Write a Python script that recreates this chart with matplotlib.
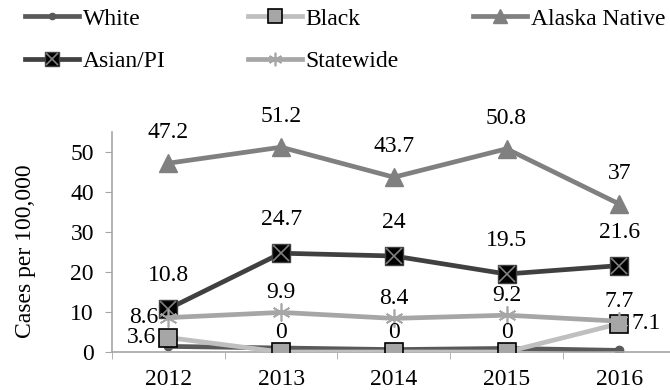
import matplotlib
matplotlib.use("Agg")
import matplotlib.pyplot as plt
from matplotlib.legend_handler import HandlerTuple
from matplotlib.ticker import FixedLocator

plt.rcParams['font.family'] = ['Liberation Serif', 'DejaVu Serif']
plt.rcParams['font.size'] = 17

years = ['2012', '2013', '2014', '2015', '2016']
white = [1.4, 1.0, 0.6, 0.9, 0.4]
black = [3.6, 0, 0, 0, 7.1]
alaska_native = [47.2, 51.2, 43.7, 50.8, 37]
asian_pi = [10.8, 24.7, 24, 19.5, 21.6]
statewide = [8.6, 9.9, 8.4, 9.2, 7.7]

x = list(range(len(years)))
W, H = 670, 390

fig = plt.figure(figsize=(6.7, 3.9), dpi=100)
ax = fig.add_axes([112 / W, 38 / H, 1 - 112 / W, 220 / H])

lw = 3.4
h_white, = ax.plot(x, white, color='#595959', lw=lw, marker='o', ms=6,
                   mfc='#595959', mec='#595959', zorder=2)
h_black, = ax.plot(x, black, color='#bfbfbf', lw=lw, marker='s', ms=13,
                   mfc='#a6a6a6', mec='black', mew=1.2, zorder=3)
h_alaska, = ax.plot(x, alaska_native, color='#808080', lw=lw, marker='^', ms=13,
                    mfc='#808080', mec='#808080', zorder=3)
h_asian, = ax.plot(x, asian_pi, color='#404040', lw=lw, marker='s', ms=13,
                   mfc='black', mec='#404040', mew=1, zorder=4)
h_asian_x, = ax.plot(x, asian_pi, ls='none', marker='x', ms=11, mec='#808080',
                     mew=1.2, zorder=5)
h_state, = ax.plot(x, statewide, color='#a6a6a6', lw=lw, marker=(6, 2, 0), ms=13,
                   mec='#a6a6a6', mew=1.2, zorder=5)

# data labels: (dx, dy) offsets in points
def label(vals, offsets):
    for i, v in enumerate(vals):
        dx, dy = offsets[i]
        ha = 'center' if dx == 0 else ('right' if dx < 0 else 'left')
        ax.annotate(f'{v:g}', (i, v), xytext=(dx, dy), textcoords='offset points',
                    ha=ha, va='center', zorder=6)

label(alaska_native, [(0, 22)] * 5)
label(asian_pi, [(0, 24)] * 5)
label(statewide, [(-7, 0), (0, 14), (0, 14), (0, 14), (0, 14)])
label(black, [(-9, 0), (0, 14), (0, 14), (0, 14), (9, 0)])

ax.set_xlim(-0.5, 4.45)
ax.set_ylim(0, 55)
ax.set_yticks([0, 10, 20, 30, 40, 50])
ax.set_xticks(x)
ax.set_xticklabels(years)
ax.xaxis.set_minor_locator(FixedLocator([-0.5, 0.5, 1.5, 2.5, 3.5, 4.5]))
ax.tick_params(axis='x', which='major', length=0, pad=12)
ax.tick_params(axis='x', which='minor', length=5, color='#a6a6a6', direction='out')
ax.tick_params(axis='y', length=5, color='#a6a6a6', pad=8)
for s in ['top', 'right']:
    ax.spines[s].set_visible(False)
for s in ['left', 'bottom']:
    ax.spines[s].set_color('#a6a6a6')
    ax.spines[s].set_linewidth(1.2)
ax.set_ylabel('Cases per 100,000')
ax.yaxis.set_label_coords(-76 / (W - 112), 0.46)

# one legend per column so the columns sit evenly spaced
columns = [
    (25, [h_white, (h_asian, h_asian_x)], ['White', 'Asian/PI']),
    (248, [h_black, h_state], ['Black', 'Statewide']),
    (473, [h_alaska], ['Alaska Native']),
]
for left, hs, ls in columns:
    leg = fig.legend(hs, ls, loc='upper left', bbox_to_anchor=(left / W, 1 - 8 / H),
                     frameon=False, borderpad=0, borderaxespad=0, handlelength=2.3,
                     handletextpad=0.15, labelspacing=0.88, markerscale=0.75,
                     handler_map={tuple: HandlerTuple(ndivide=1)})

fig.savefig('out.png', dpi=100)
